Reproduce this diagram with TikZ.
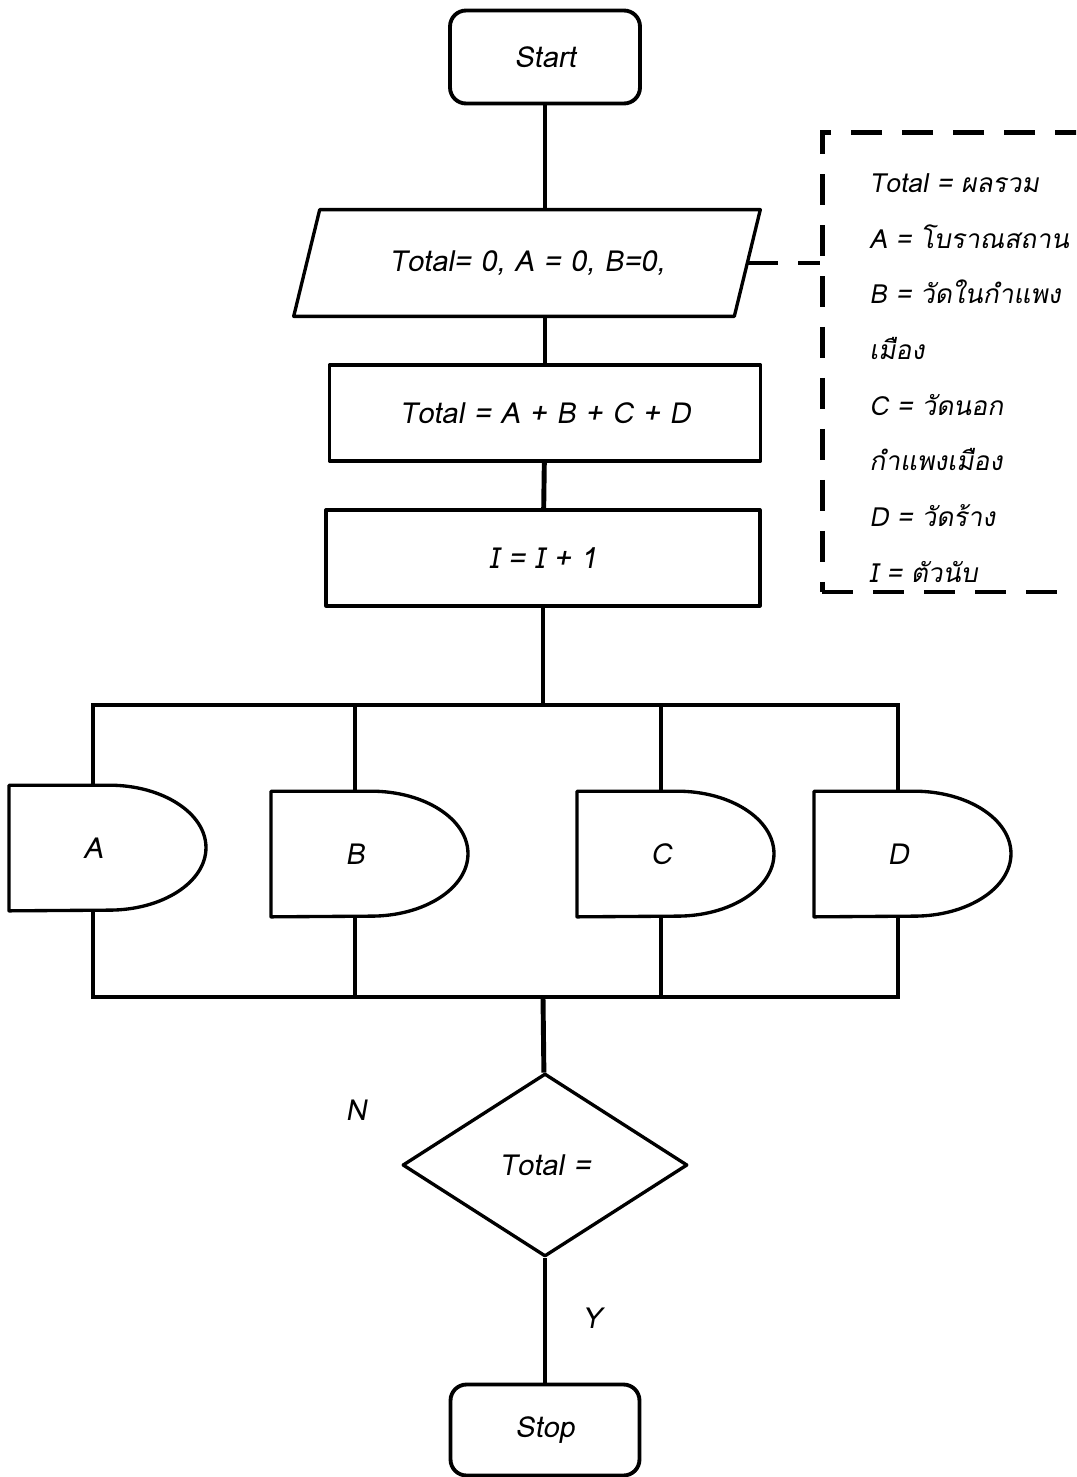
\documentclass[tikz,border=0pt]{standalone}
\usepackage{fontspec}
\newfontfamily\thaifont[Script=Thai,FakeSlant=0.18]{Loma}
\usetikzlibrary{shapes.geometric}

\newcommand{\delayshape}[1]{%
  \draw[shapeline] ([xshift=-1.68cm]#1.north) -- ([xshift=0.32cm]#1.north)
     arc[start angle=90, end angle=-90, x radius=1.94cm, y radius=1.25cm]
     -- ([xshift=-1.68cm]#1.south) -- cycle;}
\newcommand{\ioshape}[1]{%
  \draw[shapeline] ([xshift=0.26cm]#1.north west) -- ([xshift=0.26cm]#1.north east)
     -- ([xshift=-0.26cm]#1.south east) -- ([xshift=-0.26cm]#1.south west) -- cycle;}

\begin{document}
\begin{tikzpicture}[x=0.02cm, y=0.02cm,
    every node/.style={font=\thaifont\fontsize{16.5}{20}\selectfont},
    shapeline/.style={line width=1.9pt, line join=round},
    terminal/.style={rectangle, rounded corners=0.32cm, draw, line width=2.2pt,
                     minimum width=3.8cm, minimum height=1.86cm},
    process/.style={rectangle, draw, shapeline, minimum height=1.92cm},
    io/.style={rectangle, minimum width=8.8cm, minimum height=2.12cm},
    decision/.style={diamond, draw, shapeline, aspect=1.56, inner sep=0pt,
                     minimum width=5.7cm, minimum height=3.66cm},
    delay/.style={rectangle, inner sep=0pt, minimum height=2.5cm},
    conn/.style={line width=2.8pt},
    notedash/.style={line width=2.8pt, dash pattern=on 0.62cm off 0.4cm},
    notebox/.style={rectangle, draw, notedash, minimum width=6.2cm, minimum height=9.2cm},
    notetext/.style={align=left, inner sep=0pt,
                     font=\thaifont\fontsize{15}{31.7}\selectfont}]
   \clip (0,0) rectangle (1076,-1477);

   % main column
   \node[terminal] (start) at (545,-57) {Start};
   \node[io] (init) at (527,-263) {Total= 0, A = 0, B=0,};
   \ioshape{init}
   \node[process, minimum width=8.62cm] (sum) at (545,-413) {Total = A + B + C + D};
   \node[process, minimum width=8.68cm] (inc) at (543,-558) {I = I + 1};

   % legend
   \node[notebox] (legend) at (977,-362) {};
   \node[notetext, anchor=west] (legendtext) at (869,-378) {Total = ผลรวม\\A = โบราณสถาน\\B = วัดในกำแพง\\เมือง\\C = วัดนอก\\กำแพงเมือง\\D = วัดร้าง\\I = ตัวนับ};

   % places
   \node[delay] (dA) at (93,-848) {A};
   \node[delay] (dB) at (355,-854) {B};
   \node[delay] (dC) at (661,-854) {C};
   \node[delay] (dD) at (898,-854) {D};
   \delayshape{dA}
   \delayshape{dB}
   \delayshape{dC}
   \delayshape{dD}

   \coordinate (jtop) at (543,-705);
   \coordinate (jbot) at (543,-997);

   \node[decision] (check) at (545,-1165) {Total =};
   \node (lblN) at (356,-1110) {N};
   \node (lblY) at (592,-1318) {Y};
   \node[terminal, minimum width=3.78cm, minimum height=1.82cm] (stop) at (545,-1430) {Stop};

   % connectors
   \draw[conn] (start) -- (start |- init.north);
   \draw[conn] (sum.north |- init.south) -- (sum);
   \draw[conn] (sum) -- (inc);
   \draw[conn] (inc) -- (jtop);
   \draw[conn] (dA.north) |- (jtop) -| (dD.north);
   \draw[conn] (dB.north) -- (dB.north |- jtop);
   \draw[conn] (dC.north) -- (dC.north |- jtop);
   \draw[conn] (dA.south) |- (jbot) -| (dD.south);
   \draw[conn] (dB.south) -- (dB.south |- jbot);
   \draw[conn] (dC.south) -- (dC.south |- jbot);
   \draw[conn] (jbot) -- (check);
   \draw[conn] (check) -- (stop);
   \draw[notedash] (init.east) -- (init.east -| legend.west);
 \end{tikzpicture}
\end{document}
